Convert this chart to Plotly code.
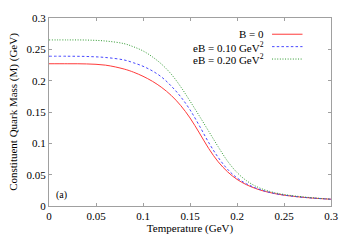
import plotly.graph_objects as go

T = [0.0, 0.02, 0.04, 0.06, 0.08, 0.09, 0.10, 0.11, 0.12, 0.13, 0.14, 0.15, 0.16, 0.17, 0.18,
     0.19, 0.20, 0.21, 0.22, 0.23, 0.24, 0.25, 0.26, 0.27, 0.28, 0.29, 0.30]
M_B0 = [0.227, 0.227, 0.2267, 0.2248, 0.2185, 0.2135, 0.207, 0.199, 0.189, 0.1765, 0.1605,
        0.1405, 0.1165, 0.0915, 0.0705, 0.0545, 0.0425, 0.034, 0.0278, 0.0232, 0.0198, 0.0173,
        0.0154, 0.0139, 0.0127, 0.0117, 0.0108]
M_eB010 = [0.239, 0.239, 0.2386, 0.237, 0.233, 0.2285, 0.223, 0.2155, 0.2055, 0.1915, 0.1745,
           0.1535, 0.128, 0.101, 0.0775, 0.0585, 0.0448, 0.0355, 0.0287, 0.0236, 0.0200, 0.0174,
           0.0155, 0.0139, 0.0127, 0.0117, 0.0108]
M_eB020 = [0.265, 0.265, 0.2648, 0.2633, 0.259, 0.254, 0.2475, 0.238, 0.226, 0.2105, 0.1905,
           0.1675, 0.1435, 0.119, 0.0945, 0.0715, 0.0535, 0.0405, 0.0315, 0.0255, 0.0213, 0.0184,
           0.0163, 0.0146, 0.0132, 0.012, 0.0109]

names = ["B = 0", "eB = 0.10 GeV<sup>2</sup>", "eB = 0.20 GeV<sup>2</sup>"]
colors = ["#ff3a3a", "#4848ff", "#2f9a2f"]
dashes = ["solid", "2.5px,2.2px", "1px,1.6px"]
series = [M_B0, M_eB010, M_eB020]

FONT = "Times New Roman, Liberation Serif, Tinos, Nimbus Roman, DejaVu Serif"

fig = go.Figure()
for y, n, c, d in zip(series, names, colors, dashes):
    fig.add_trace(go.Scatter(x=T, y=y, mode="lines", name=n,
                             line=dict(color=c, width=1, dash=d, shape="spline", smoothing=1.0),
                             showlegend=False))

leg_y = [29, 42, 55]
for n, c, d, py in zip(names, colors, dashes, leg_y):
    yp = 1 - (py - 12) / 197
    x_txt = (270 - 49) / 287
    fig.add_annotation(x=x_txt, y=yp, xref="paper", yref="paper", text=n, showarrow=False,
                       xanchor="right", yanchor="middle", font=dict(family=FONT, size=11, color="black"))
    fig.add_shape(type="line", xref="paper", yref="paper", x0=(276 - 49) / 287, x1=(307 - 49) / 287,
                  y0=yp, y1=yp, line=dict(color=c, width=1, dash=d))

fig.add_annotation(x=0.005, y=0.004, xref="x", yref="y", text="(a)", showarrow=False,
                   xanchor="left", yanchor="bottom", font=dict(family=FONT, size=10, color="black"))

axis_common = dict(showgrid=False, zeroline=False, showline=True, linecolor="#a0a0a0", linewidth=1,
                   ticks="inside", ticklen=3, tickcolor="#a0a0a0", mirror="allticks",
                   tickfont=dict(family=FONT, size=11, color="black"))
fig.update_xaxes(range=[0, 0.3], tickvals=[0, 0.05, 0.1, 0.15, 0.2, 0.25, 0.3],
                 ticktext=["0", "0.05", "0.1", "0.15", "0.2", "0.25", "0.3"],
                 title=dict(text="Temperature (GeV)", font=dict(family=FONT, size=11, color="black"), standoff=3),
                 **axis_common)
fig.update_yaxes(range=[0, 0.3], tickvals=[0, 0.05, 0.1, 0.15, 0.2, 0.25, 0.3],
                 ticktext=["0", "0.05", "0.1", "0.15", "0.2", "0.25", "0.3"],
                 title=dict(text="Constituent Quark Mass (M) (GeV)", font=dict(family=FONT, size=11, color="black"), standoff=6),
                 **axis_common)

fig.update_layout(width=350, height=245, margin=dict(l=49, r=14, t=12, b=36),
                  plot_bgcolor="white", paper_bgcolor="white",
                  font=dict(family=FONT))
fig.write_html("out.html", config={"displayModeBar": False},
               post_script="document.body.style.margin='0';")
